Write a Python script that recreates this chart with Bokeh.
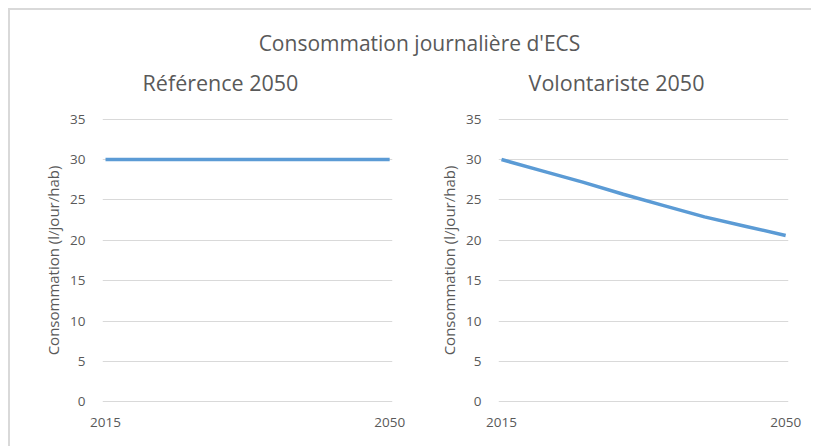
from bokeh.plotting import figure
from bokeh.layouts import column, row
from bokeh.models import Range1d, FixedTicker
from bokeh.embed import file_html
from bokeh.resources import INLINE
from bokeh.core.properties import value

main_title = "Consommation journalière d'ECS"
titles = ["Référence 2050", "Volontariste 2050"]
y_label = "Consommation (l/jour/hab)"
years = [2015, 2020, 2025, 2030, 2035, 2040, 2045, 2050]
ref_vals = [30, 30, 30, 30, 30, 30, 30, 30]
vol_vals = [30, 28.6, 27.2, 25.7, 24.3, 22.9, 21.75, 20.6]
x_ticks = [2015, 2050]
y_ticks = [0, 5, 10, 15, 20, 25, 30, 35]

FONT = "Open Sans"
GRAY = "#595959"
LINE = "#5B9BD5"

# header holds the main title and the two panel titles (pixel-based layout coordinates)
header = figure(width=801, height=90, x_range=Range1d(0, 801), y_range=Range1d(90, 0),
                output_backend="svg", toolbar_location=None, min_border=0)
header.axis.visible = False
header.grid.visible = False
header.outline_line_color = None
header.text(x=[409], y=[32], text=[main_title], text_align="center", text_baseline="middle",
            text_font=value(FONT), text_font_size="21px", text_color=GRAY)
header.text(x=[210, 606], y=[72, 72], text=titles, text_align="center", text_baseline="middle",
            text_font=value(FONT), text_font_size="21.5px", text_color=GRAY)


def make_plot(vals):
    p = figure(width=396, height=346, x_range=Range1d(2014.63, 2050.35), y_range=Range1d(-0.08, 35.08),
               output_backend="svg", toolbar_location=None,
               min_border_left=92, min_border_right=14, min_border_top=18, min_border_bottom=44)
    p.outline_line_color = None
    p.line(years, vals, line_color=LINE, line_width=3.5)
    p.xaxis.ticker = FixedTicker(ticks=x_ticks)
    p.yaxis.ticker = FixedTicker(ticks=y_ticks)
    p.xgrid.visible = False
    p.ygrid.grid_line_color = "#d9d9d9"
    p.ygrid.grid_line_width = 1
    for ax in (p.xaxis[0], p.yaxis[0]):
        ax.axis_line_color = None
        ax.major_tick_line_color = None
        ax.minor_tick_line_color = None
        ax.major_label_text_font = FONT
        ax.major_label_text_font_size = "13.5px"
        ax.major_label_text_color = GRAY
    p.xaxis.major_label_standoff = 9
    p.yaxis.major_label_standoff = 11
    p.yaxis.axis_label = y_label
    p.yaxis.axis_label_text_font = FONT
    p.yaxis.axis_label_text_font_size = "15px"
    p.yaxis.axis_label_text_font_style = "normal"
    p.yaxis.axis_label_text_color = GRAY
    p.yaxis.axis_label_standoff = 4
    return p


p1 = make_plot(ref_vals)
p2 = make_plot(vol_vals)

layout = column(header, row(p1, p2), margin=(8, 0, 0, 8),
                styles={"border-top": "2px solid #d9d9d9", "border-left": "2px solid #d9d9d9"})
open("out.html", "w").write(file_html(layout, INLINE))
